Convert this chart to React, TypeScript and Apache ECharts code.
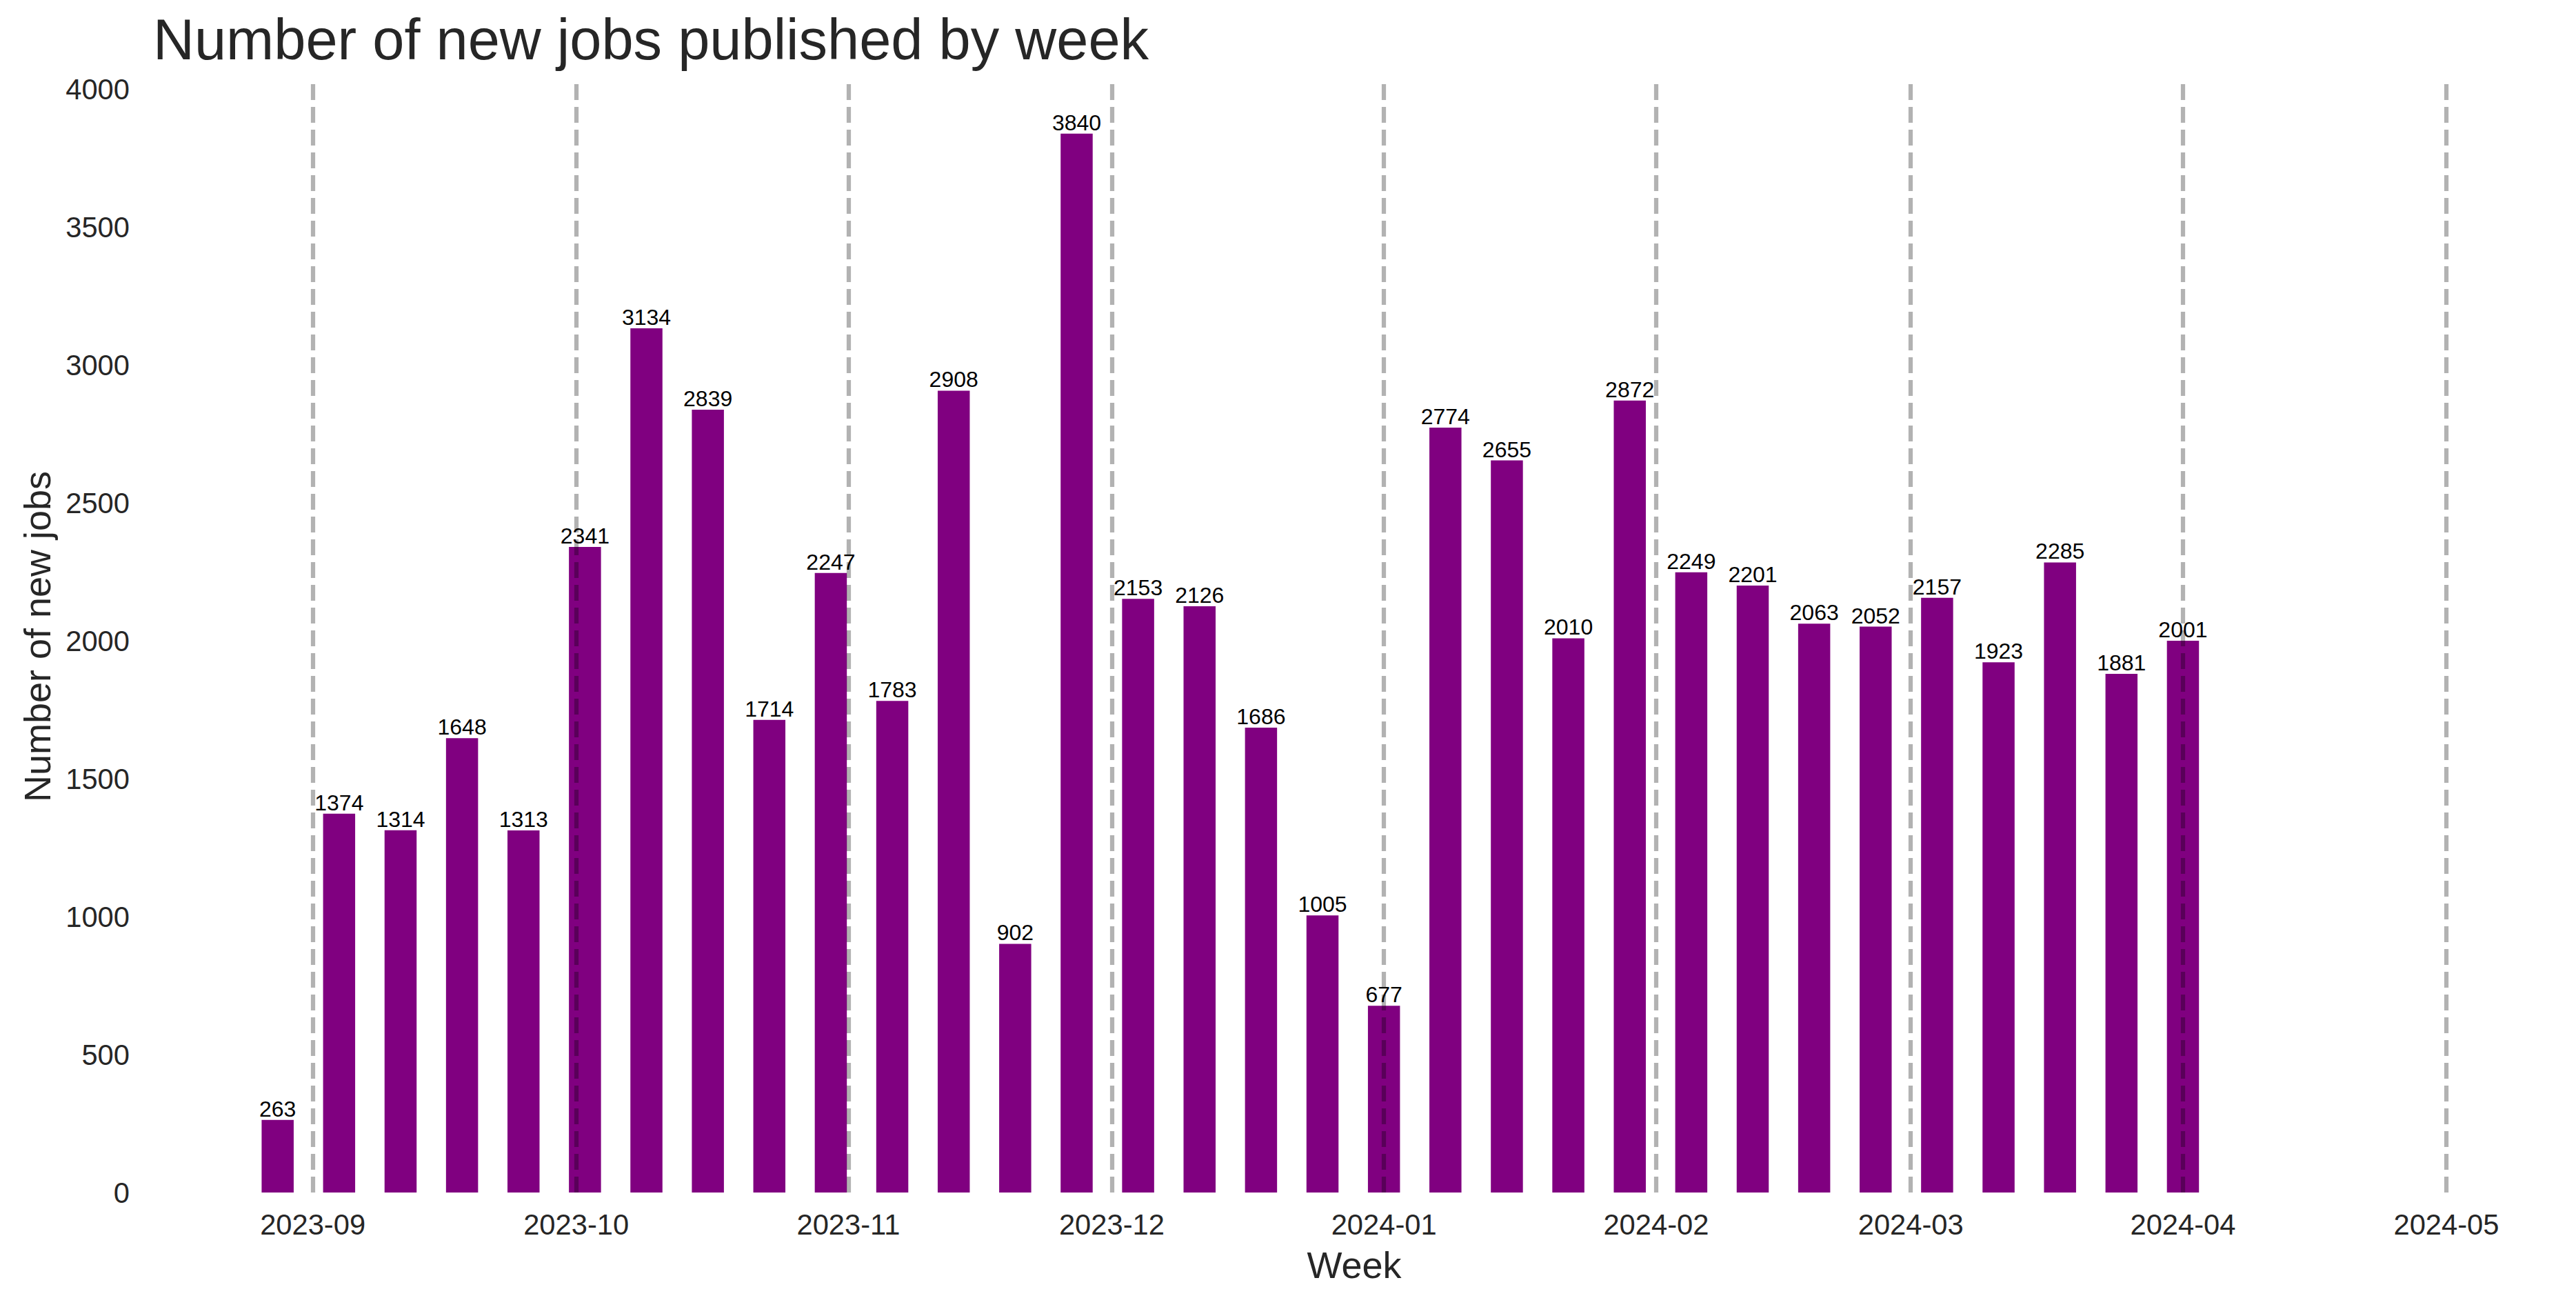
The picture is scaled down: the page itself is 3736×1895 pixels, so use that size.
import React, { useEffect, useRef } from "react";
import * as echarts from "echarts";

const weeks: string[] = [
  "2023-08-28", "2023-09-04", "2023-09-11", "2023-09-18", "2023-09-25",
  "2023-10-02", "2023-10-09", "2023-10-16", "2023-10-23", "2023-10-30",
  "2023-11-06", "2023-11-13", "2023-11-20", "2023-11-27", "2023-12-04",
  "2023-12-11", "2023-12-18", "2023-12-25", "2024-01-01", "2024-01-08",
  "2024-01-15", "2024-01-22", "2024-01-29", "2024-02-05", "2024-02-12",
  "2024-02-19", "2024-02-26", "2024-03-04", "2024-03-11", "2024-03-18",
  "2024-03-25", "2024-04-01",
];

const newJobs: number[] = [
  263, 1374, 1314, 1648, 1313, 2341, 3134, 2839, 1714, 2247, 1783, 2908, 902,
  3840, 2153, 2126, 1686, 1005, 677, 2774, 2655, 2010, 2872, 2249, 2201, 2063,
  2052, 2157, 1923, 2285, 1881, 2001,
];

const monthTicks: string[] = [
  "2023-09-01", "2023-10-01", "2023-11-01", "2023-12-01", "2024-01-01",
  "2024-02-01", "2024-03-01", "2024-04-01", "2024-05-01",
];

const yTicks: number[] = [0, 500, 1000, 1500, 2000, 2500, 3000, 3500, 4000];

const titleText = "Number of new jobs published by week";
const xName = "Week";
const yName = "Number of new jobs";

const DAY = 86400000;
const toTs = (s: string) => {
  const [y, m, d] = s.split("-").map(Number);
  return Date.UTC(y, m - 1, d);
};
const fmtMonth = (v: number) => {
  const d = new Date(v);
  const mm = String(d.getUTCMonth() + 1).padStart(2, "0");
  return `${d.getUTCFullYear()}-${mm}`;
};

// axis limits (matplotlib-like autoscale margins)
const X_MIN = toTs("2023-09-01") - 18.19 * DAY;
const X_MAX = toTs("2024-05-01") + 12.41 * DAY;
const Y_MAX = 4032;

const FONT = '"Liberation Sans", Arial, Helvetica, sans-serif';
const TEXT = "#262626";

export default function App() {
  const ref = useRef<HTMLDivElement>(null);
  useEffect(() => {
    if (!ref.current) return;
    const chart = echarts.init(ref.current, null, { renderer: "svg" });
    const tickTs = monthTicks.map(toTs);
    chart.setOption({
      animation: false,
      backgroundColor: "#ffffff",
      textStyle: { fontFamily: FONT },
      title: {
        text: titleText,
        left: 222,
        top: 16,
        padding: 0,
        textStyle: { fontFamily: FONT, fontSize: 83, fontWeight: "normal", color: TEXT },
      },
      grid: { left: 222, right: 30, top: 117, bottom: 166, containLabel: false },
      xAxis: {
        type: "value",
        min: X_MIN,
        max: X_MAX,
        name: xName,
        nameLocation: "middle",
        nameGap: 78,
        nameTextStyle: { fontFamily: FONT, fontSize: 54, color: TEXT, verticalAlign: "top" },
        axisLine: { show: false },
        axisTick: { show: false },
        splitLine: { show: false },
        axisLabel: {
          customValues: tickTs,
          formatter: (v: number) => fmtMonth(v),
          fontFamily: FONT,
          fontSize: 41.7,
          color: TEXT,
          margin: 25,
          hideOverlap: false,
        },
      },
      yAxis: {
        type: "value",
        min: 0,
        max: Y_MAX,
        name: yName,
        nameLocation: "middle",
        nameGap: 141,
        nameRotate: 90,
        nameTextStyle: { fontFamily: FONT, fontSize: 54, color: TEXT },
        axisLine: { show: false },
        axisTick: { show: false },
        splitLine: { show: false },
        axisLabel: {
          customValues: yTicks,
          formatter: (v: number) => String(v),
          fontFamily: FONT,
          fontSize: 41.7,
          color: TEXT,
          margin: 34,
        },
      },
      series: [
        {
          type: "bar",
          data: weeks.map((w, i) => [toTs(w), newJobs[i]]),
          barWidth: 46.5,
          itemStyle: { color: "#800080" },
          label: {
            show: true,
            position: "top",
            distance: 0,
            fontFamily: FONT,
            fontSize: 32,
            color: "#000000",
            formatter: (p: any) => String(p.value[1]),
          },
          markLine: {
            silent: true,
            symbol: ["none", "none"],
            label: { show: false },
            lineStyle: { color: "rgba(0,0,0,0.3)", width: 6.25, type: [23, 10] },
            emphasis: { disabled: true },
            data: tickTs.map((t) => ({ xAxis: t })),
          },
        },
      ],
    });
    return () => chart.dispose();
  }, []);
  return (
    <div
      ref={ref}
      style={{ position: "fixed", left: 0, top: 0, width: 3736, height: 1895 }}
    />
  );
}
